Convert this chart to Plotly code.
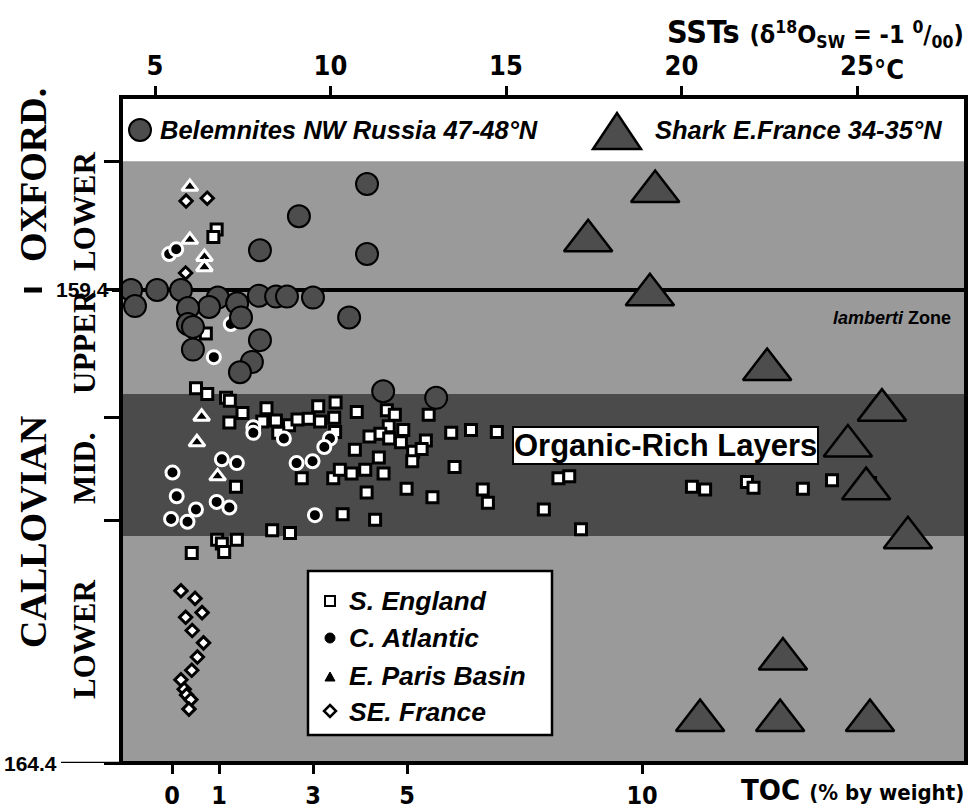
import plotly.graph_objects as go

# ---------------- DATA ----------------
# Belemnites NW Russia (SST, degC) vs age (Ma)
bel_sst = [11.04, 9.10, 7.99, 11.04, 4.32, 5.06, 5.74, 4.43, 6.79, 6.54, 5.94, 7.34, 7.45,
           7.96, 8.45, 8.76, 9.50, 5.94, 6.08, 6.08, 7.99, 10.53, 7.76, 7.42, 11.50, 13.01]
bel_age = [158.28, 158.62, 158.98, 159.02, 159.40, 159.40, 159.40, 159.57, 159.48, 159.58, 159.59, 159.54, 159.69,
           159.46, 159.47, 159.47, 159.48, 159.76, 159.79, 160.03, 159.93, 159.69, 160.16, 160.27, 160.47, 160.54]

# Shark E. France (SST, degC) vs age (Ma)
shark_sst = [19.25, 17.34, 19.10, 22.44, 25.71, 24.74, 25.26, 26.45, 22.89, 20.53, 22.81, 25.37]
shark_age = [158.36, 158.88, 159.45, 160.24, 160.67, 161.05, 161.50, 162.02, 163.30, 163.95, 163.95, 163.95]

# S. England TOC (%) vs age (Ma)
eng_toc = [0.95, 0.88, 0.72, 0.51, 0.75, 1.15, 1.23, 1.50, 1.22, 2.01, 1.92, 2.21, 2.49, 2.26, 2.67, 2.91,
           3.11, 3.48, 3.15, 3.45, 3.47, 3.93, 3.89, 2.76, 3.43, 3.57, 3.82, 1.36, 3.63, 2.13, 2.51, 0.96,
           1.06, 1.38, 1.11, 0.42, 4.57, 4.74, 4.61, 4.92, 4.43, 4.20, 4.62, 4.87, 5.40, 5.13, 5.31, 4.40,
           5.11, 4.11, 4.50, 5.46, 5.94, 6.36, 6.91, 6.01, 4.14, 4.99, 5.54, 6.61, 6.72, 4.32, 8.22, 8.45,
           7.91, 8.70, 11.06, 11.34, 12.23, 12.37, 13.42, 14.04, 14.85]
eng_age = [158.76, 158.84, 159.86, 160.44, 160.50, 160.54, 160.57, 160.70, 160.80, 160.65, 160.79, 160.78,
           160.83, 160.91, 160.77, 160.76, 160.63, 160.59, 160.79, 160.75, 160.90, 160.69, 161.09, 161.39,
           161.39, 161.30, 161.34, 161.48, 161.77, 161.94, 161.97, 162.04, 162.08, 162.04, 162.17, 162.18,
           160.67, 160.72, 160.84, 160.88, 160.92, 160.95, 160.97, 161.01, 160.99, 161.11, 161.08, 161.17,
           161.21, 161.30, 161.34, 160.72, 160.91, 160.88, 160.90, 161.27, 161.54, 161.50, 161.59, 161.51,
           161.65, 161.83, 161.39, 161.37, 161.72, 161.93, 161.48, 161.51, 161.43, 161.49, 161.50, 161.41,
           161.44]

# C. Atlantic TOC vs age
atl_toc = [-0.06, 0.09, 0.44, 1.25, 0.89, 1.73, 1.73, 2.38, 3.36, 3.24, 1.06, 1.38, 2.65, 2.99, 0.01,
           0.10, 0.51, 0.95, 1.22, -0.02, 0.33, 3.04]
atl_age = [159.02, 158.97, 159.57, 159.76, 160.11, 160.85, 160.91, 160.97, 160.97, 161.06, 161.19, 161.23,
           161.23, 161.21, 161.33, 161.58, 161.72, 161.64, 161.70, 161.82, 161.85, 161.78]

# E. Paris Basin TOC vs age
par_toc = [0.38, 0.38, 0.69, 0.69, 0.63, 0.53, 0.97]
par_age = [158.31, 158.87, 159.05, 159.16, 160.74, 161.01, 161.37]

# SE. France TOC vs age
sef_toc = [0.30, 0.75, 0.29, 0.19, 0.49, 0.64, 0.29, 0.43, 0.67, 0.54, 0.42, 0.19, 0.26, 0.31, 0.40, 0.36]
sef_age = [158.46, 158.43, 159.22, 162.58, 162.66, 162.81, 162.86, 163.00, 163.13, 163.28, 163.42,
           163.52, 163.62, 163.68, 163.73, 163.83]

# zones (Ma)
zone_top = 158.04        # top of shaded Lower Oxfordian
boundary = 159.4         # Callovian / Oxfordian boundary
orl_top, orl_bot = 160.50, 162.00   # organic-rich layers band
age_ticks = [158.04, 159.4, 160.75, 161.84, 164.4]
age_labels = ["159.4", "164.4"]

toc_ticks = [0, 1, 3, 5, 10]
toc_ticklabels = ["0", "1", "3", "5", "10"]
sst_ticks = [5, 10, 15, 20, 25]
sst_ticklabels = ["5", "10", "15", "20", "25"]

# ---------------- STYLE / LAYOUT ----------------
W, H = 971, 809
L, R, T, B = 121, 966, 97, 763


def px(x):
    return (x - L) / (R - L)


def py(y):
    return (B - y) / (B - T)


LIGHT = "#9a9a9a"
DARK = "#4b4b4b"
NARROW = "Liberation Sans Narrow, DejaVu Sans Condensed, Liberation Sans, sans-serif"
SANS = "Liberation Sans, Arial, sans-serif"
SERIF = "Liberation Serif, Times New Roman, serif"

fig = go.Figure()

fig.add_trace(go.Scatter(x=bel_sst, y=bel_age, xaxis="x2", yaxis="y", mode="markers",
                         marker=dict(symbol="circle", size=22, color="#4d4d4d",
                                     line=dict(color="black", width=2)), name="Belemnites"))
fig.add_trace(go.Scatter(x=shark_sst, y=shark_age, xaxis="x2", yaxis="y", mode="markers",
                         marker=dict(symbol="triangle-up", size=42, color="#4d4d4d",
                                     line=dict(color="black", width=2.5)), name="Shark"))
fig.add_trace(go.Scatter(x=eng_toc, y=eng_age, mode="markers",
                         marker=dict(symbol="square", size=11, color="white",
                                     line=dict(color="black", width=3)), name="S. England"))
fig.add_trace(go.Scatter(x=atl_toc, y=atl_age, mode="markers",
                         marker=dict(symbol="circle", size=13, color="black",
                                     line=dict(color="white", width=3)), name="C. Atlantic"))
fig.add_trace(go.Scatter(x=par_toc, y=par_age, mode="markers",
                         marker=dict(symbol="triangle-up", size=14, color="black",
                                     line=dict(color="white", width=3)), name="E. Paris Basin"))
fig.add_trace(go.Scatter(x=sef_toc, y=sef_age, mode="markers",
                         marker=dict(symbol="diamond", size=9.5, color="white",
                                     line=dict(color="black", width=3)), name="SE. France"))

shapes = []
shapes.append(dict(type="rect", xref="paper", yref="y", x0=0, x1=1, y0=zone_top, y1=164.4,
                   fillcolor=LIGHT, line=dict(width=0), layer="below"))
shapes.append(dict(type="rect", xref="paper", yref="y", x0=0, x1=1, y0=orl_top, y1=orl_bot,
                   fillcolor=DARK, line=dict(width=0), layer="below"))
shapes.append(dict(type="line", xref="paper", yref="y", x0=px(112), x1=1, y0=boundary, y1=boundary,
                   line=dict(color="black", width=4), layer="below"))
shapes.append(dict(type="line", xref="paper", yref="y", x0=px(61), x1=0, y0=164.4, y1=164.4,
                   line=dict(color="black", width=2.5)))
shapes.append(dict(type="rect", xref="paper", yref="paper", x0=0, x1=1, y0=0, y1=1,
                   line=dict(color="black", width=4), layer="above"))
shapes.append(dict(type="line", xref="paper", yref="paper", x0=px(24), x1=px(42), y0=py(290), y1=py(290),
                   line=dict(color="black", width=5)))
shapes.append(dict(type="circle", xref="paper", yref="paper", x0=px(129), x1=px(151), y0=py(141), y1=py(119),
                   fillcolor="#4d4d4d", line=dict(color="black", width=2)))
shapes.append(dict(type="path", xref="paper", yref="paper",
                   path=f"M {px(593)} {py(149)} L {px(641)} {py(149)} L {px(617)} {py(113)} Z",
                   fillcolor="#4d4d4d", line=dict(color="black", width=2.5)))
shapes.append(dict(type="rect", xref="paper", yref="paper", x0=px(308), x1=px(552), y0=py(735), y1=py(571),
                   fillcolor="white", line=dict(color="black", width=2.5), layer="above"))
shapes.append(dict(type="rect", xref="paper", yref="paper", x0=px(325), x1=px(335), y0=py(606), y1=py(596),
                   fillcolor="white", line=dict(color="black", width=2), layer="above"))
shapes.append(dict(type="circle", xref="paper", yref="paper", x0=px(325), x1=px(335), y0=py(643), y1=py(633),
                   fillcolor="black", line=dict(color="black", width=1), layer="above"))
shapes.append(dict(type="path", xref="paper", yref="paper",
                   path=f"M {px(325)} {py(681)} L {px(335)} {py(681)} L {px(330)} {py(672)} Z",
                   fillcolor="black", line=dict(color="black", width=1), layer="above"))
shapes.append(dict(type="path", xref="paper", yref="paper",
                   path=f"M {px(330)} {py(705)} L {px(336)} {py(711)} L {px(330)} {py(717)} L {px(324)} {py(711)} Z",
                   fillcolor="white", line=dict(color="black", width=2.5), layer="above"))

ann = []


def A(text, x, y, size, family=SANS, xanchor="center", yanchor="middle", angle=0, xref="paper", yref="paper", **kw):
    ann.append(dict(text=text, x=px(x) if xref == "paper" else x, y=py(y) if yref == "paper" else y,
                    xref=xref, yref=yref, showarrow=False,
                    xanchor=xanchor, yanchor=yanchor, textangle=angle,
                    font=dict(size=size, family=family, color="black", weight="bold"), **kw))


A('SSTs <span style="font-size:25px">(δ<sup>18</sup>O<sub>SW</sub> = -1 <sup>0</sup>/<sub>00</sub>)</span>',
  966, 32, 32, NARROW, xanchor="right")
A("°C", 872, 69, 27, NARROW, xanchor="left")
A('TOC <span style="font-size:22px">(% by weight)</span>', 966, 790, 29, NARROW, xanchor="right")
A("<i>Belemnites NW Russia 47-48°N</i>", 158, 130, 25.5, SANS, xanchor="left")
A("<i>Shark E.France 34-35°N</i>", 653, 130, 25.5, SANS, xanchor="left")
A("<i>lamberti</i> Zone", 953, 318, 18, SANS, xanchor="right")
A("Organic-Rich Layers", 665, 445, 31, SANS, bgcolor="white", bordercolor="black", borderwidth=2, borderpad=0)
A("<i>S. England</i>", 347, 601, 26.5, SANS, xanchor="left")
A("<i>C. Atlantic</i>", 347, 638, 26.5, SANS, xanchor="left")
A("<i>E. Paris Basin</i>", 347, 676, 26.5, SANS, xanchor="left")
A("<i>SE. France</i>", 347, 712, 26.5, SANS, xanchor="left")
A("OXFORD.", 33, 175, 38, SERIF, angle=-90)
A("CALLOVIAN", 33, 532, 38, SERIF, angle=-90)
A("LOWER", 84, 212, 31, SERIF, angle=-90)
A("UPPER", 84, 342, 31, SERIF, angle=-90)
A("MID.", 84, 469, 31, SERIF, angle=-90)
A("LOWER", 84, 640, 31, SERIF, angle=-90)
# labelled age ticks
A(age_labels[0], 111, age_ticks[1], 21, SANS, xanchor="right", yref="y")
A(age_labels[1], 59, age_ticks[4], 21, SANS, xanchor="right", yref="y")

fig.update_layout(
    width=W, height=H,
    margin=dict(l=L, r=W - R, t=T, b=H - B, autoexpand=False),
    paper_bgcolor="white", plot_bgcolor="white",
    showlegend=False,
    shapes=shapes, annotations=ann,
    xaxis=dict(range=[-1.085, 16.89], tickvals=toc_ticks, ticktext=toc_ticklabels, automargin=False,
               ticks="outside", ticklen=10, tickwidth=3, tickcolor="black",
               showgrid=False, zeroline=False, showline=False,
               tickfont=dict(size=25, family=NARROW, color="black", weight="bold")),
    xaxis2=dict(range=[4.031, 28.105], overlaying="x", side="top", automargin=False,
                tickvals=sst_ticks, ticktext=sst_ticklabels,
                ticks="outside", ticklen=10, tickwidth=3, tickcolor="black",
                showgrid=False, zeroline=False, showline=False,
                tickfont=dict(size=27, family=NARROW, color="black", weight="bold")),
    yaxis=dict(range=[164.4, 157.36], tickvals=age_ticks, showticklabels=False, automargin=False,
               ticks="outside", ticklen=16, tickwidth=2.5, tickcolor="black",
               showgrid=False, zeroline=False, showline=False),
)

fig.write_html("out.html", config={"displayModeBar": False},
               post_script="document.body.style.margin='0';document.body.style.overflow='hidden';")
